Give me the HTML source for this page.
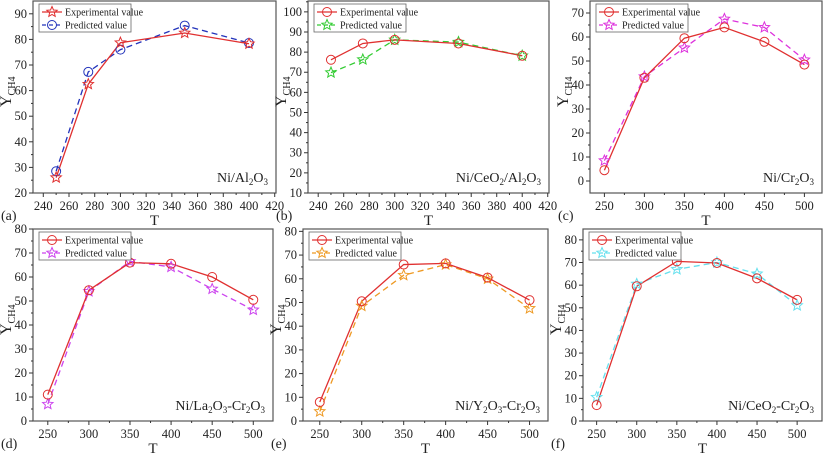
<!DOCTYPE html>
<html><head><meta charset="utf-8"><style>
html,body{margin:0;padding:0;background:#fff;width:824px;height:454px;overflow:hidden}
svg text{font-family:"Liberation Serif",serif;fill:#222}
</style></head><body>
<svg id="fig" width="824" height="454" xmlns="http://www.w3.org/2000/svg"></svg>
<script>
const tA=[250,275,300,350,400];
const tB=[250,300,350,400,450,500];
const aExp=[26,62.5,78.7,82.5,78.3], aPred=[28.5,67.3,76,85.4,78.6];
const bExp=[76.2,84.3,86.1,84.3,78.2], bPred=[69.8,76.3,86.1,85,78.2];
const cExp=[4.5,43,59.5,64,58,48.5], cPred=[8.5,43.5,55.5,67.5,64,50.5];
const dExp=[11,54.5,66,65.5,60,50.5], dPred=[7,54,66.5,64.2,55,46.3];
const eExp=[8,50.5,66,66.5,60.5,51], ePred=[4,48.5,61.5,66,60,47.5];
const fExp=[7,59.5,70.5,69.8,63,53.5], fPred=[10.5,60.5,67,70,65,51];
const xTicksA=[240,260,280,300,320,340,360,380,400,420];
const xTicksB=[250,300,350,400,450,500];
const yTicksA=[20,30,40,50,60,70,80,90];
const yTicksB=[10,20,30,40,50,60,70,80,90,100];
const yTicksC=[0,10,20,30,40,50,60,70];
const yTicksD=[0,10,20,30,40,50,60,70,80];

const NS="http://www.w3.org/2000/svg";
const svg=document.getElementById('fig');
function el(tag,attrs,parent){const e=document.createElementNS(NS,tag);for(const k in attrs)e.setAttribute(k,attrs[k]);(parent||svg).appendChild(e);return e;}

const panels=[
 {id:'a',L:33,R:276,T:1,B:193,xmin:232,xmax:421,ymin:20,ymax:95,xt:xTicksA,yt:yTicksA,x:tA,exp:aExp,pred:aPred,expM:'star',predM:'circle',predC:'#2233bb',label:'Ni/Al<tspan baseline-shift="sub" font-size="9">2</tspan>O<tspan baseline-shift="sub" font-size="9">3</tspan>',legExpM:'star',legPredM:'circle'},
 {id:'b',L:308,R:549,T:1,B:193,xmin:232,xmax:421,ymin:10,ymax:105.4,xt:xTicksA,yt:yTicksB,x:tA,exp:bExp,pred:bPred,expM:'circle',predM:'star',predC:'#33cc33'},
 {id:'c',L:590,R:822,T:1,B:193,xmin:232,xmax:522,ymin:-5,ymax:75,xt:xTicksB,yt:yTicksC,x:tB,exp:cExp,pred:cPred,expM:'circle',predM:'star',predC:'#dd33dd'},
 {id:'d',L:33,R:273,T:229,B:421,xmin:232,xmax:524,ymin:0,ymax:80,xt:xTicksB,yt:yTicksD,x:tB,exp:dExp,pred:dPred,expM:'circle',predM:'star',predC:'#cc44ee'},
 {id:'e',L:303,R:548,T:229,B:421,xmin:230,xmax:522,ymin:0,ymax:81,xt:xTicksB,yt:yTicksD,x:tB,exp:eExp,pred:ePred,expM:'circle',predM:'star',predC:'#ee9922'},
 {id:'f',L:583,R:822,T:229,B:421,xmin:233,xmax:531,ymin:0,ymax:84.8,xt:xTicksB,yt:yTicksD,x:tB,exp:fExp,pred:fPred,expM:'circle',predM:'star',predC:'#66e0ee'}
];
const labels={
 a:'Ni/Al<tspan dy="3" font-size="9">2</tspan><tspan dy="-3">O</tspan><tspan dy="3" font-size="9">3</tspan>',
 b:'Ni/CeO<tspan dy="3" font-size="9">2</tspan><tspan dy="-3">/Al</tspan><tspan dy="3" font-size="9">2</tspan><tspan dy="-3">O</tspan><tspan dy="3" font-size="9">3</tspan>',
 c:'Ni/Cr<tspan dy="3" font-size="9">2</tspan><tspan dy="-3">O</tspan><tspan dy="3" font-size="9">3</tspan>',
 d:'Ni/La<tspan dy="3" font-size="9">2</tspan><tspan dy="-3">O</tspan><tspan dy="3" font-size="9">3</tspan><tspan dy="-3">-Cr</tspan><tspan dy="3" font-size="9">2</tspan><tspan dy="-3">O</tspan><tspan dy="3" font-size="9">3</tspan>',
 e:'Ni/Y<tspan dy="3" font-size="9">2</tspan><tspan dy="-3">O</tspan><tspan dy="3" font-size="9">3</tspan><tspan dy="-3">-Cr</tspan><tspan dy="3" font-size="9">2</tspan><tspan dy="-3">O</tspan><tspan dy="3" font-size="9">3</tspan>',
 f:'Ni/CeO<tspan dy="3" font-size="9">2</tspan><tspan dy="-3">-Cr</tspan><tspan dy="3" font-size="9">2</tspan><tspan dy="-3">O</tspan><tspan dy="3" font-size="9">3</tspan>'
};
function starPts(cx,cy,r){let p=[];for(let i=0;i<10;i++){const a=-Math.PI/2+i*Math.PI/5;const rr=i%2?r*0.45:r;p.push((cx+rr*Math.cos(a)).toFixed(1)+','+(cy+rr*Math.sin(a)).toFixed(1));}return p.join(' ');}
function marker(g,type,cx,cy,color){
 if(type==='circle')return el('circle',{cx:cx,cy:cy,r:4.5,fill:'none',stroke:color,'stroke-width':1},g);
 return el('polygon',{points:starPts(cx,cy,5.5),fill:'none',stroke:color,'stroke-width':1},g);
}
const RED='#e03030';
panels.forEach(p=>{
 const g=el('g',{});
 
 
 const sx=v=>p.L+(v-p.xmin)/(p.xmax-p.xmin)*(p.R-p.L);
 const sy=v=>p.B-(v-p.ymin)/(p.ymax-p.ymin)*(p.B-p.T);
 const box=el('rect',{x:p.L,y:p.T,width:p.R-p.L,height:p.B-p.T,fill:'none',stroke:'#555','stroke-width':1.2},g);
 
 
 p.xt.forEach((t,i)=>{
  const x=sx(t);
  el('line',{x1:x,y1:p.B,x2:x,y2:p.B+4,stroke:'#333'},g);
  if(i<p.xt.length-1){const xm=sx(t+(p.xt[1]-p.xt[0])/2);el('line',{x1:xm,y1:p.B,x2:xm,y2:p.B+2,stroke:'#333'},g);}
  const tx=el('text',{x:x,y:p.B+17,'font-size':12.5,'text-anchor':'middle'},g);tx.textContent=t;
  
  
 });
 p.yt.forEach((t,i)=>{
  const y=sy(t);
  el('line',{x1:p.L-4,y1:y,x2:p.L,y2:y,stroke:'#333'},g);
  const ym=sy(t+(p.yt[1]-p.yt[0])/2);if(ym>p.T)el('line',{x1:p.L-2,y1:ym,x2:p.L,y2:ym,stroke:'#333'},g);
  const ty=el('text',{x:p.L-6,y:y+4,'font-size':12.5,'text-anchor':'end'},g);ty.textContent=t;
  
  
 });
 const xl=el('text',{x:(p.L+p.R)/2,y:p.B+32,'font-size':15,'text-anchor':'middle'},g);xl.textContent='T';
 
 
 const yl=el('text',{x:0,y:0,'font-size':16,transform:`translate(${p.L-22},${(p.T+p.B)/2+10}) rotate(-90)`},g);
 yl.innerHTML='Y<tspan dy="4" font-size="10">CH4</tspan>';
 
 
 const pl=el('text',{x:p.L-32,y:p.B+27,'font-size':14},g);pl.textContent='('+p.id+')';
 
 
 const cl=el('text',{x:p.R-8,y:p.B-11,'font-size':14,'text-anchor':'end'},g);cl.innerHTML=labels[p.id];
 
 
 // series
 const ptsP=p.x.map((t,i)=>sx(t)+','+sy(p.pred[i])).join(' ');
 const lp=el('polyline',{points:ptsP,fill:'none',stroke:p.predC,'stroke-width':1.3,'stroke-dasharray':'6,4'},g);
 
 
 const ptsE=p.x.map((t,i)=>sx(t)+','+sy(p.exp[i])).join(' ');
 const le=el('polyline',{points:ptsE,fill:'none',stroke:RED,'stroke-width':1.3},g);
 
 
 p.x.forEach((t,i)=>{
  const m=marker(g,p.predM,sx(t),sy(p.pred[i]),p.predC);
  
  
 });
 p.x.forEach((t,i)=>{
  const m=marker(g,p.expM,sx(t),sy(p.exp[i]),RED);
  
  
 });
 // legend
 const lg=el('g',{},g);
 
 
 const lx=p.L+6,ly=p.T+3;
 el('rect',{x:lx,y:ly,width:92,height:28,fill:'#fff',stroke:'#666','stroke-width':0.8},lg);
 el('line',{x1:lx+3,y1:ly+8,x2:lx+23,y2:ly+8,stroke:RED,'stroke-width':1.3},lg);
 marker(lg,p.expM,lx+13,ly+8,RED);
 const t1=el('text',{x:lx+26,y:ly+11.5,'font-size':10},lg);t1.textContent='Experimental value';
 
 
 el('line',{x1:lx+3,y1:ly+21,x2:lx+23,y2:ly+21,stroke:p.predC,'stroke-width':1.3,'stroke-dasharray':'4,3'},lg);
 marker(lg,p.predM,lx+13,ly+21,p.predC);
 const t2=el('text',{x:lx+26,y:ly+24.5,'font-size':10},lg);t2.textContent='Predicted value';
 
 
});
</script>
</body></html>
